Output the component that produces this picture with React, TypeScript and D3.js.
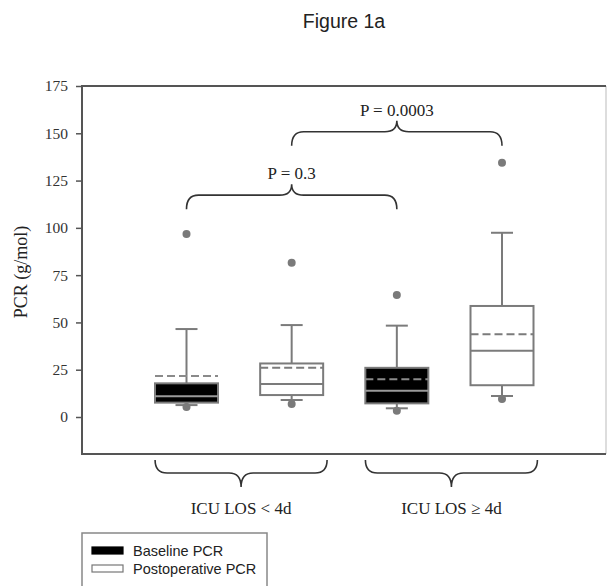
import React, { useRef, useEffect } from 'react';
import * as d3 from 'd3';

// groups along the x axis, each with a baseline and a postoperative box
const groups = ['ICU LOS < 4d', 'ICU LOS \u2265 4d'];
const series = ['Baseline PCR', 'Postoperative PCR'];
const boxKeys = ['b0', 'p0', 'b1', 'p1'];

// box statistics, in boxKeys order
const q1 = [7.6, 11.6, 7.2, 16.8];
const median = [11, 17.4, 13.9, 35];
const q3 = [17.8, 28.3, 26, 58.7];
const mean = [21.7, 26, 19.9, 43.7];
const whiskerLow = [6.3, 9, 4.6, 11.1];
const whiskerHigh = [46.5, 48.6, 48.3, 97.4];
const outlierLow = [5.3, 6.9, 3.3, 9.5];
const outlierHigh = [96.7, 81.6, 64.5, 134.4];

const yTicks = [0, 25, 50, 75, 100, 125, 150, 175];

// significance braces: label, compared boxes, height of brace (g/mol)
const pLabels = ['P = 0.3', 'P = 0.0003'];
const pPairs = [[0, 2], [1, 3]];
const pLevels = [117.3, 150.8];

const App = () => {
  const svgRef = useRef(null);

  useEffect(() => {
    const svg = d3.select(svgRef.current);
    svg.selectAll('*').remove();

    const width = 607;
    const height = 586;
    const left = 82, right = 606, top = 86, bottom = 454;
    const serif = 'Liberation Serif, Times New Roman, serif';
    const sans = 'Liberation Sans, Arial, sans-serif';

    const x = d3.scalePoint().domain(boxKeys).range([186.5, 502]);
    const y = d3.scaleLinear().domain([0, 175]).range([417, top]);
    const boxW = 63;
    const capW = 22;
    const grey = '#7b7b7b';

    svg.attr('width', width).attr('height', height);

    // title
    svg.append('text')
      .attr('x', (left + right) / 2).attr('y', 28)
      .attr('text-anchor', 'middle')
      .attr('font-family', sans)
      .attr('font-size', 19.5).attr('fill', '#222')
      .text('Figure 1a');

    // frame
    svg.append('line').attr('x1', right).attr('x2', right).attr('y1', top).attr('y2', bottom)
      .attr('stroke', '#bbb').attr('stroke-width', 1);
    svg.append('path')
      .attr('d', `M${right},${top}H${left}V${bottom}H${right}`)
      .attr('fill', 'none').attr('stroke', '#555').attr('stroke-width', 2);

    // y axis
    const yAxis = svg.append('g')
      .attr('transform', `translate(${left},0)`)
      .call(d3.axisLeft(y).tickValues(yTicks).tickSize(6).tickPadding(8));
    yAxis.select('.domain').remove();
    yAxis.selectAll('line').attr('stroke', '#555').attr('stroke-width', 1.5);
    yAxis.selectAll('text')
      .attr('font-family', serif)
      .attr('font-size', 15.5).attr('fill', '#333');

    svg.append('text')
      .attr('transform', `translate(27,${(top + bottom) / 2 + 2}) rotate(-90)`)
      .attr('text-anchor', 'middle')
      .attr('font-family', serif)
      .attr('font-size', 18).attr('fill', '#222')
      .text('PCR (g/mol)');

    // boxes
    boxKeys.forEach((k, i) => {
      const cx = x(k);
      const baseline = k[0] === 'b';
      const g = svg.append('g');

      // whiskers
      g.append('line').attr('x1', cx).attr('x2', cx)
        .attr('y1', y(q3[i])).attr('y2', y(whiskerHigh[i]))
        .attr('stroke', grey).attr('stroke-width', 2);
      g.append('line').attr('x1', cx).attr('x2', cx)
        .attr('y1', y(q1[i])).attr('y2', y(whiskerLow[i]))
        .attr('stroke', grey).attr('stroke-width', 2);
      [whiskerHigh[i], whiskerLow[i]].forEach(v => {
        g.append('line').attr('x1', cx - capW / 2).attr('x2', cx + capW / 2)
          .attr('y1', y(v)).attr('y2', y(v))
          .attr('stroke', grey).attr('stroke-width', 2);
      });

      g.append('rect')
        .attr('x', cx - boxW / 2).attr('width', boxW)
        .attr('y', y(q3[i])).attr('height', y(q1[i]) - y(q3[i]))
        .attr('fill', baseline ? '#000' : '#fff')
        .attr('stroke', grey).attr('stroke-width', 2);

      g.append('line').attr('x1', cx - boxW / 2).attr('x2', cx + boxW / 2)
        .attr('y1', y(median[i])).attr('y2', y(median[i]))
        .attr('stroke', baseline ? '#9a9a9a' : grey).attr('stroke-width', 2);

      g.append('line').attr('x1', cx - boxW / 2).attr('x2', cx + boxW / 2)
        .attr('y1', y(mean[i])).attr('y2', y(mean[i]))
        .attr('stroke', baseline ? '#8a8a8a' : grey).attr('stroke-width', 2)
        .attr('stroke-dasharray', '8,4');

      [outlierLow[i], outlierHigh[i]].forEach(v => {
        g.append('circle').attr('cx', cx).attr('cy', y(v)).attr('r', 4)
          .attr('fill', '#7a7a7a');
      });
    });

    // brace path: ends at yH+endDy, tip at yH+tipDy
    const brace = (x1, x2, yH, endDy, tipDy) => {
      const xm = (x1 + x2) / 2;
      const r = 12;
      return `M${x1},${yH + endDy}Q${x1},${yH} ${x1 + r},${yH}L${xm - r},${yH}` +
        `Q${xm},${yH} ${xm},${yH + tipDy}Q${xm},${yH} ${xm + r},${yH}` +
        `L${x2 - r},${yH}Q${x2},${yH} ${x2},${yH + endDy}`;
    };

    pLabels.forEach((label, i) => {
      const [a, b] = pPairs[i];
      const x1 = x(boxKeys[a]);
      const x2 = x(boxKeys[b]);
      const yH = y(pLevels[i]);
      svg.append('path').attr('d', brace(x1, x2, yH, 14, -11))
        .attr('fill', 'none').attr('stroke', '#333').attr('stroke-width', 1.6);
      svg.append('text')
        .attr('x', (x1 + x2) / 2).attr('y', yH - 16)
        .attr('text-anchor', 'middle')
        .attr('font-family', serif)
        .attr('font-size', 17).attr('fill', '#222')
        .text(label);
    });

    // group braces under the plot
    groups.forEach((label, gi) => {
      const xa = x(boxKeys[gi * 2]);
      const xb = x(boxKeys[gi * 2 + 1]);
      const xm = (xa + xb) / 2 + 2;
      svg.append('path').attr('d', brace(xm - 86, xm + 86, 473, -13, 14))
        .attr('fill', 'none').attr('stroke', '#333').attr('stroke-width', 1.6);
      svg.append('text')
        .attr('x', xm).attr('y', 514)
        .attr('text-anchor', 'middle')
        .attr('font-family', serif)
        .attr('font-size', 17).attr('fill', '#222')
        .text(label);
    });

    // legend
    const lg = svg.append('g');
    lg.append('rect').attr('x', 82).attr('y', 533).attr('width', 185).attr('height', 70)
      .attr('fill', 'none').attr('stroke', '#888').attr('stroke-width', 1.5);
    series.forEach((s, i) => {
      const yy = 547 + i * 18;
      lg.append('rect').attr('x', 92).attr('y', yy).attr('width', 31).attr('height', 7)
        .attr('fill', i === 0 ? '#000' : '#fff')
        .attr('stroke', i === 0 ? '#000' : '#777').attr('stroke-width', 1.2);
      lg.append('text').attr('x', 133).attr('y', yy + 9)
        .attr('font-family', sans)
        .attr('font-size', 14.5).attr('fill', '#222')
        .text(s);
    });
  }, []);

  return <svg ref={svgRef} style={{ position: 'absolute', left: 0, top: 0 }}></svg>;
};

export default App;
